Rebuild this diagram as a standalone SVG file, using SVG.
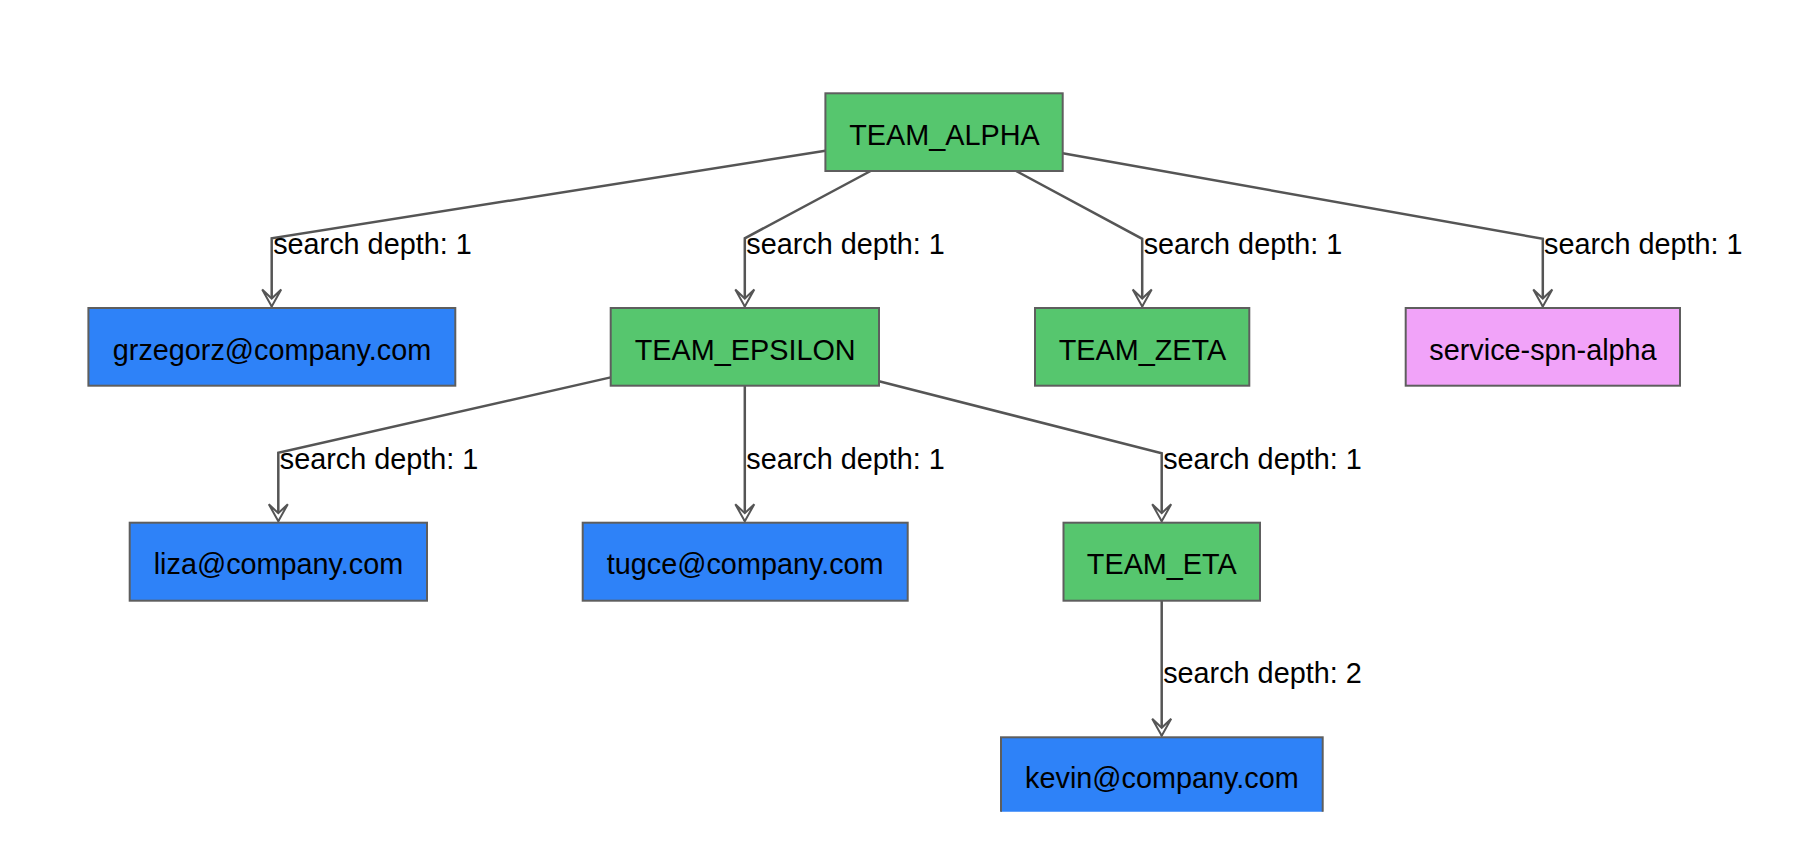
<svg xmlns="http://www.w3.org/2000/svg" width="1800" height="842" viewBox="0 0 1800 842">
  <style>
    .box { stroke: #5e5e5e; stroke-width: 2; }
    .team { fill: #56c66e; }
    .user { fill: #2e82f8; }
    .svc { fill: #f1a3f9; }
    .lbl { font-family: "Liberation Sans", Arial, Helvetica, sans-serif; font-size: 28.8px; fill: #000; }
    .ntext { text-anchor: middle; }
    .edge { fill: none; stroke: #555; stroke-width: 2.5; marker-end: url(#vee); }
  </style>
  <defs>
    <marker id="vee" viewBox="-20 -12 24 24" refX="0" refY="0" markerWidth="24" markerHeight="24" markerUnits="userSpaceOnUse" orient="auto">
      <path d="M-17,-9.5 L0,0 L-17,9.5 L-8,0 Z" fill="#fff" stroke="#555" stroke-width="2" stroke-linejoin="miter"/>
    </marker>
    <clipPath id="viewclip">
      <rect x="0" y="0" width="1800" height="811.7"/>
    </clipPath>
  </defs>
  <rect x="0" y="0" width="1800" height="842" fill="#fff"/>

  <g id="connectors">
    <path class="edge" d="M825.4,150.7 L271.7,238.3 L271.7,306.5"/>
    <path class="edge" d="M870.6,171 L744.8,238.3 L744.8,306.5"/>
    <path class="edge" d="M1016.2,171 L1142.2,238.8 L1142.2,306.5"/>
    <path class="edge" d="M1062.7,153.3 L1542.8,238.8 L1542.8,306.5"/>
    <path class="edge" d="M610.7,377.4 L278.3,452.8 L278.3,521.2"/>
    <path class="edge" d="M744.8,386 L744.8,521.2"/>
    <path class="edge" d="M879,381.2 L1161.7,453.3 L1161.7,521.2"/>
    <path class="edge" d="M1161.7,600.7 L1161.7,735.8"/>
    <text class="lbl" x="273.2" y="253.5">search depth: 1</text>
    <text class="lbl" x="746.3" y="253.8">search depth: 1</text>
    <text class="lbl" x="1143.7" y="253.5">search depth: 1</text>
    <text class="lbl" x="1544" y="253.5">search depth: 1</text>
    <text class="lbl" x="279.8" y="469">search depth: 1</text>
    <text class="lbl" x="746.3" y="469">search depth: 1</text>
    <text class="lbl" x="1163.2" y="469">search depth: 1</text>
    <text class="lbl" x="1163.2" y="683.3">search depth: 2</text>
  </g>

  <g id="team_alpha">
    <rect class="box team" x="825.4" y="93.3" width="237.3" height="77.7"/>
    <text class="lbl ntext" x="944.5" y="145">TEAM_ALPHA</text>
  </g>
  <g id="grzegorz">
    <rect class="box user" x="88.4" y="308" width="366.9" height="77.7"/>
    <text class="lbl ntext" x="272" y="359.5">grzegorz@company.com</text>
  </g>
  <g id="team_epsilon">
    <rect class="box team" x="610.7" y="308" width="268.3" height="77.7"/>
    <text class="lbl ntext" x="745.2" y="359.8">TEAM_EPSILON</text>
  </g>
  <g id="team_zeta">
    <rect class="box team" x="1035" y="308" width="214.3" height="77.7"/>
    <text class="lbl ntext" x="1142.4" y="359.5">TEAM_ZETA</text>
  </g>
  <g id="service_spn_alpha">
    <rect class="box svc" x="1405.7" y="308" width="274.3" height="77.7"/>
    <text class="lbl ntext" x="1543" y="359.5">service-spn-alpha</text>
  </g>
  <g id="liza">
    <rect class="box user" x="129.7" y="522.7" width="297.3" height="78"/>
    <text class="lbl ntext" x="278.5" y="574.3">liza@company.com</text>
  </g>
  <g id="tugce">
    <rect class="box user" x="582.7" y="522.7" width="325" height="78"/>
    <text class="lbl ntext" x="745.2" y="574.3">tugce@company.com</text>
  </g>
  <g id="team_eta">
    <rect class="box team" x="1063.5" y="522.7" width="196.5" height="78"/>
    <text class="lbl ntext" x="1161.8" y="574.3">TEAM_ETA</text>
  </g>
  <g id="kevin" clip-path="url(#viewclip)">
    <rect class="box user" x="1001" y="737.3" width="321.7" height="78"/>
    <text class="lbl ntext" x="1161.9" y="788">kevin@company.com</text>
  </g>
</svg>
